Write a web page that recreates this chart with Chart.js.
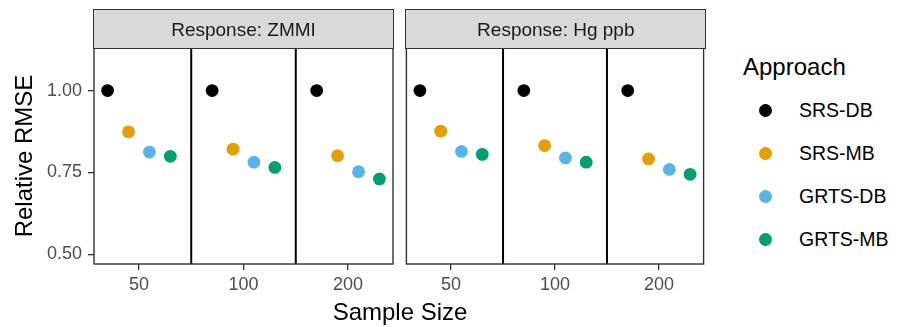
<!DOCTYPE html>
<html>
<head>
<meta charset="utf-8">
<script src="https://cdn.jsdelivr.net/npm/chart.js@4.4.1/dist/chart.umd.min.js"></script>
<style>
html,body{margin:0;padding:0;background:#fff;}
body{width:904px;height:327px;position:relative;overflow:hidden;font-family:'Liberation Sans',Arial,sans-serif;}
canvas{position:absolute;top:0;}
.strip{position:absolute;top:9px;height:39.5px;box-sizing:border-box;border:1.3px solid #333;background:#d9d9d9;}
.strip span{position:absolute;left:0;right:0;top:10.3px;text-align:center;font-size:19px;line-height:19px;color:#1a1a1a;white-space:nowrap;}
.xtitle{position:absolute;left:0;width:800px;top:299.7px;text-align:center;font-size:24px;line-height:24px;color:#000;}
.ltitle{position:absolute;left:743px;top:54.7px;font-size:24px;line-height:24px;color:#000;}
.litem{position:absolute;left:799px;font-size:19.5px;line-height:19.5px;color:#000;white-space:nowrap;}
.ldot{position:absolute;width:13px;height:13px;border-radius:50%;}
</style>
</head>
<body>
<canvas id="c1" width="400" height="327" style="left:0px;width:400px;height:327px"></canvas>
<canvas id="c2" width="310" height="327" style="left:400px;width:310px;height:327px"></canvas>
<div class="strip" id="s1" style="left:93.3px;width:300.4px"><span id="s1t"></span></div>
<div class="strip" id="s2" style="left:405.3px;width:301px"><span id="s2t"></span></div>
<div class="xtitle" id="xt"></div>
<div class="ltitle" id="lt"></div>
<div id="legend"></div>
<script>
// ---- data ----
const categories = ['50', '100', '200'];
const approaches = ['SRS-DB', 'SRS-MB', 'GRTS-DB', 'GRTS-MB'];
const colors = ['#000000', '#E69F00', '#56B4E9', '#009E73'];
const panels = ['Response: ZMMI', 'Response: Hg ppb'];
const zmmi_SRS_DB  = [1.000, 1.000, 1.000];
const zmmi_SRS_MB  = [0.874, 0.821, 0.801];
const zmmi_GRTS_DB = [0.812, 0.781, 0.752];
const zmmi_GRTS_MB = [0.799, 0.765, 0.730];
const hg_SRS_DB  = [1.000, 1.000, 1.000];
const hg_SRS_MB  = [0.876, 0.832, 0.791];
const hg_GRTS_DB = [0.814, 0.794, 0.759];
const hg_GRTS_MB = [0.805, 0.781, 0.744];
const yTicks = [0.50, 0.75, 1.00];
const yLimits = [0.47, 1.13];
const xTitle = 'Sample Size';
const yTitle = 'Relative RMSE';
const legendTitle = 'Approach';

const zmmiSeries = [zmmi_SRS_DB, zmmi_SRS_MB, zmmi_GRTS_DB, zmmi_GRTS_MB];
const hgSeries = [hg_SRS_DB, hg_SRS_MB, hg_GRTS_DB, hg_GRTS_MB];

// dodge layout (position_dodge width 0.8)
const dodgeWidth = 0.8;
function dodgeOffset(i, n) { return -dodgeWidth / 2 + dodgeWidth / n * (i + 0.5); }
const separators = categories.slice(1).map((_, i) => i + 0.5);
const xMin = -0.43, xMax = categories.length - 1 + 0.43;

const FONT = "'Liberation Sans', Arial, sans-serif";

function makeDatasets(series) {
  return series.map((vals, i) => ({
    label: approaches[i],
    data: vals.map((v, k) => ({ x: k + dodgeOffset(i, series.length), y: v })),
    backgroundColor: colors[i],
    borderWidth: 0,
    pointRadius: 6.4,
    pointHoverRadius: 6.4
  }));
}

const panelPlugin = {
  id: 'panel',
  beforeDatasetsDraw(chart) {
    const { ctx, chartArea: a, scales: { x } } = chart;
    ctx.save();
    ctx.strokeStyle = '#000';
    ctx.lineWidth = 2;
    separators.forEach(v => {
      const px = x.getPixelForValue(v);
      ctx.beginPath(); ctx.moveTo(px, a.top); ctx.lineTo(px, a.bottom); ctx.stroke();
    });
    ctx.restore();
  },
  afterDatasetsDraw(chart) {
    const { ctx, chartArea: a } = chart;
    ctx.save();
    ctx.strokeStyle = '#333333';
    ctx.lineWidth = 1.4;
    ctx.strokeRect(a.left, a.top, a.right - a.left, a.bottom - a.top);
    ctx.restore();
  }
};

function xScale() {
  return {
    type: 'linear', min: xMin, max: xMax,
    afterBuildTicks: s => { s.ticks = categories.map((_, i) => ({ value: i })); },
    afterFit: s => { s.height = 63; },
    ticks: {
      callback: v => categories[v],
      color: '#4D4D4D', font: { family: FONT, size: 18 },
      padding: 4, maxRotation: 0, autoSkip: false
    },
    grid: { drawOnChartArea: false, tickLength: 6, color: '#333333', lineWidth: 1.3 },
    border: { display: false }
  };
}

function makeChart(id, series, showY, padding) {
  return new Chart(document.getElementById(id), {
    type: 'scatter',
    data: { datasets: makeDatasets(series) },
    options: {
      responsive: false, animation: false, devicePixelRatio: 1,
      layout: { padding },
      plugins: { legend: { display: false }, tooltip: { enabled: false }, title: { display: false } },
      scales: {
        x: xScale(),
        y: {
          display: showY,
          min: yLimits[0], max: yLimits[1],
          afterBuildTicks: s => { s.ticks = yTicks.map(v => ({ value: v })); },
          afterFit: s => { if (showY) s.width = 94; },
          ticks: {
            callback: v => Number(v).toFixed(2),
            color: '#4D4D4D', font: { family: FONT, size: 18 }, padding: 6
          },
          grid: { drawOnChartArea: false, tickLength: 6, color: '#333333', lineWidth: 1.3 },
          border: { display: false },
          title: { display: showY, text: yTitle, color: '#000', font: { family: FONT, size: 24 }, padding: { top: 10.5, bottom: 0 } }
        }
      }
    },
    plugins: [panelPlugin]
  });
}

makeChart('c1', zmmiSeries, true, { top: 48, right: 7, left: 0, bottom: 0 });
makeChart('c2', hgSeries, false, { top: 48, right: 4.3, left: 6, bottom: 0 });

document.getElementById('s1t').textContent = panels[0];
document.getElementById('s2t').textContent = panels[1];
document.getElementById('xt').textContent = xTitle;
document.getElementById('lt').textContent = legendTitle;

const legend = document.getElementById('legend');
approaches.forEach((name, i) => {
  const cy = 110 + i * 43.1;
  const dot = document.createElement('div');
  dot.className = 'ldot';
  dot.style.left = (765 - 6.5) + 'px';
  dot.style.top = (cy - 6.5) + 'px';
  dot.style.background = colors[i];
  legend.appendChild(dot);
  const t = document.createElement('div');
  t.className = 'litem';
  t.style.top = (cy + 7.2 - 16.5) + 'px';
  t.textContent = name;
  legend.appendChild(t);
});
</script>
</body>
</html>
